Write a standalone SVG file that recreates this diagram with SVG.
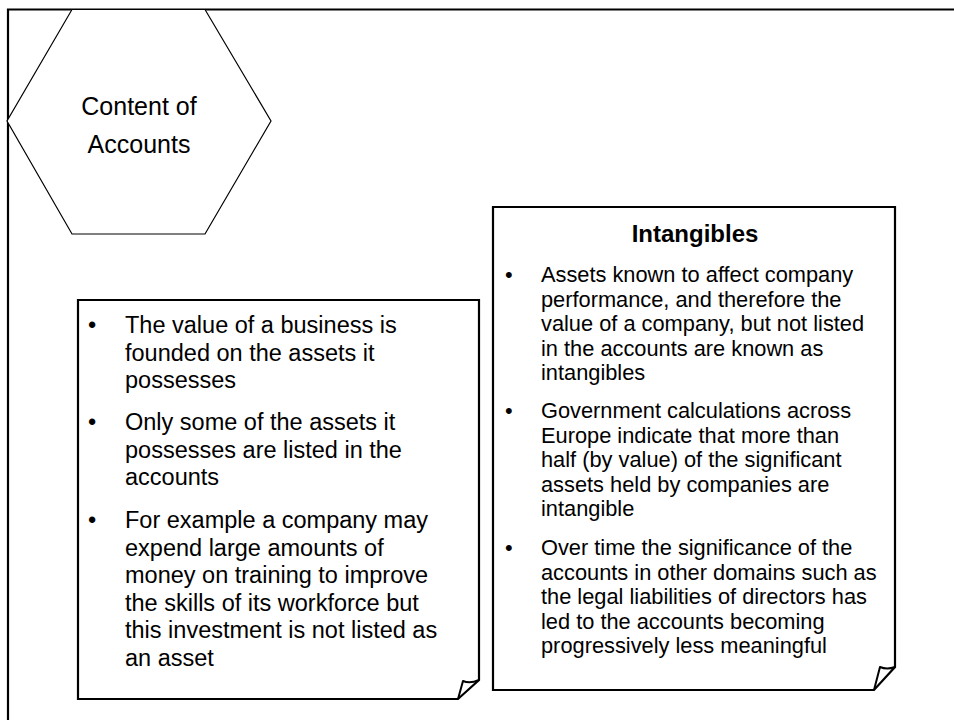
<svg xmlns="http://www.w3.org/2000/svg" width="954" height="720" viewBox="0 0 954 720">
  <style>
    .frame { fill: none; stroke: #000; stroke-width: 2.2; }
    .hex { fill: #fff; stroke: #000; stroke-width: 1.2; }
    .note { fill: #fff; stroke: #000; stroke-width: 2.2; stroke-linejoin: miter; }
    .curl { fill: none; stroke: #000; stroke-width: 2; stroke-linejoin: round; }
    text { font-family: "Liberation Sans", Arial, sans-serif; fill: #000; }
    .title { font-size: 25px; text-anchor: middle; }
    .big { font-size: 23.5px; }
    .small { font-size: 21.8px; }
    .head { font-size: 24px; font-weight: bold; text-anchor: middle; }
  </style>

  <!-- page frame -->
  <path class="frame" d="M8,720 V9.5 H954"/>

  <g id="hexagon">
    <polygon class="hex" points="72,9.5 205,9.5 271,121 205,234 72,234 7,121"/>
    <text class="title" x="139" y="115">Content of</text>
    <text class="title" x="139" y="153">Accounts</text>
  </g>

  <g id="note-assets">
    <path class="note" d="M78,300 H479 V680 L458,699 H78 Z"/>
    <path class="curl" d="M458,699 L463,681 Q470,684 479,680"/>
    <g class="big">
      <text x="88" y="333">•</text>
      <text x="125" y="333">The value of a business is</text>
      <text x="125" y="360.5">founded on the assets it</text>
      <text x="125" y="388">possesses</text>
      <text x="88" y="430">•</text>
      <text x="125" y="430">Only some of the assets it</text>
      <text x="125" y="457.5">possesses are listed in the</text>
      <text x="125" y="485">accounts</text>
      <text x="88" y="528">•</text>
      <text x="125" y="528">For example a company may</text>
      <text x="125" y="555.5">expend large amounts of</text>
      <text x="125" y="583">money on training to improve</text>
      <text x="125" y="610.5">the skills of its workforce but</text>
      <text x="125" y="638">this investment is not listed as</text>
      <text x="125" y="665.5">an asset</text>
    </g>
  </g>

  <g id="note-intangibles">
    <path class="note" d="M493,207 H895 V667 L874,690 H493 Z"/>
    <path class="curl" d="M874,690 L880,667 Q887,670 895,667"/>
    <text class="head" x="695" y="242">Intangibles</text>
    <g class="small">
      <text x="505" y="282">•</text>
      <text x="541" y="282">Assets known to affect company</text>
      <text x="541" y="306.5">performance, and therefore the</text>
      <text x="541" y="331">value of a company, but not listed</text>
      <text x="541" y="355.5">in the accounts are known as</text>
      <text x="541" y="380">intangibles</text>
      <text x="505" y="418">•</text>
      <text x="541" y="418">Government calculations across</text>
      <text x="541" y="442.5">Europe indicate that more than</text>
      <text x="541" y="467">half (by value) of the significant</text>
      <text x="541" y="491.5">assets held by companies are</text>
      <text x="541" y="516">intangible</text>
      <text x="505" y="555">•</text>
      <text x="541" y="555">Over time the significance of the</text>
      <text x="541" y="579.5">accounts in other domains such as</text>
      <text x="541" y="604">the legal liabilities of directors has</text>
      <text x="541" y="628.5">led to the accounts becoming</text>
      <text x="541" y="653">progressively less meaningful</text>
    </g>
  </g>
</svg>
